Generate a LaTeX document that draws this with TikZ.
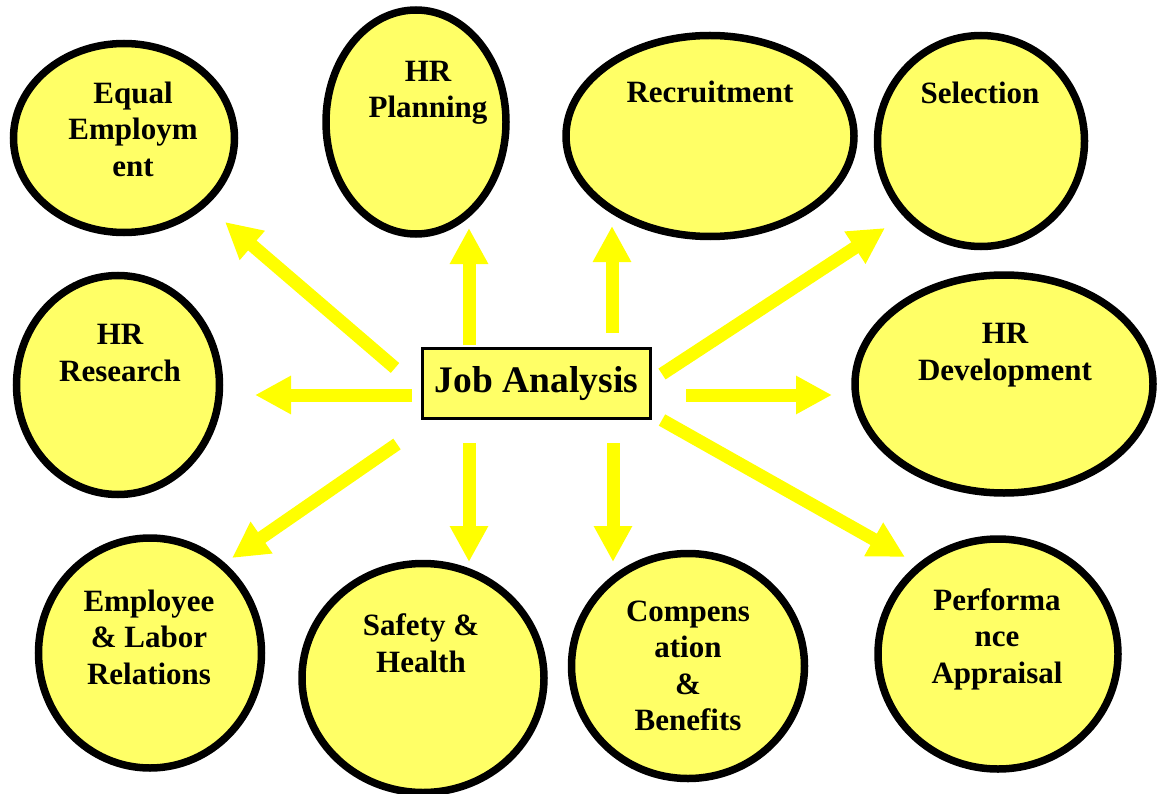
\documentclass[tikz,border=0pt]{standalone}
\usepackage{fontspec}
\setmainfont{Liberation Serif}
\usetikzlibrary{shapes.geometric,arrows.meta,positioning}
\definecolor{bubblefill}{HTML}{FFFF66}
\definecolor{arrowyellow}{HTML}{FFFF00}

\begin{document}
\begin{tikzpicture}[x=1pt, y=-1pt,
    areabubble/.style={draw, ellipse, line width=7.5pt, fill=bubblefill, inner sep=0pt},
    bubbletext/.style={align=center, inner sep=0pt, font=\fontsize{31}{36.5}\selectfont\bfseries},
    jobbox/.style={draw, line width=3pt, fill=bubblefill, minimum width=228pt, minimum height=70pt, font=\fontsize{37.5}{42}\selectfont\bfseries},
    fatarrow/.style={-{Triangle[width=36pt,length=36pt]}, line width=13pt, draw=arrowyellow},
]
    \useasboundingbox (0,0) rectangle (1158,794);

    % HR functions
    \node[areabubble, minimum width=221pt, minimum height=189pt] (equal) at (124,138) {};
    \node[areabubble, minimum width=180pt, minimum height=224pt] (planning) at (416,122) {};
    \node[areabubble, minimum width=288pt, minimum height=201pt] (recruit) at (710,136) {};
    \node[areabubble, minimum width=207pt, minimum height=211pt] (select) at (981,141) {};
    \node[areabubble, minimum width=203pt, minimum height=219pt] (research) at (118,385) {};
    \node[areabubble, minimum width=298pt, minimum height=218pt] (develop) at (1004,384) {};
    \node[areabubble, minimum width=223pt, minimum height=230pt] (labor) at (150,653) {};
    \node[areabubble, minimum width=242pt, minimum height=229pt] (safety) at (423,678) {};
    \node[areabubble, minimum width=233pt, minimum height=225pt] (comp) at (688,666) {};
    \node[areabubble, minimum width=240pt, minimum height=230pt] (perform) at (998,654) {};

    \node[bubbletext] (equaltxt) at (133,129) {Equal\\Employm\\ent};
    \node[bubbletext] (planningtxt) at (428,93) {HR\\Planning};
    \node[bubbletext] (recruittxt) at (710,92) {Recruitment};
    \node[bubbletext] (selecttxt) at (980,93) {Selection};
    \node[bubbletext] (researchtxt) at (120,353) {HR\\Research};
    \node[bubbletext] (developtxt) at (1005,355) {HR\\Development};
    \node[bubbletext] (labortxt) at (149,637) {Employee\\\& Labor\\Relations};
    \node[bubbletext] (safetytxt) at (421,643) {Safety \&\\Health};
    \node[bubbletext] (comptxt) at (688,666) {Compens\\ation\\\&\\Benefits};
    \node[bubbletext] (performtxt) at (997,639) {Performa\\nce\\Appraisal};

    % Job analysis in the middle
    \node[jobbox] (job) at (536.5,383.5) {Job Analysis};

    % arrow ends
    \coordinate (s1) at (395,368);  \coordinate (t1) at (225,222);
    \coordinate (s2) at (469,345);  \coordinate (t2) at (469,228);
    \coordinate (s3) at (612,333);  \coordinate (t3) at (612,226);
    \coordinate (s4) at (662,374);  \coordinate (t4) at (885,228);
    \coordinate (s5) at (412,395);  \coordinate (t5) at (255,395);
    \coordinate (s6) at (686,395);  \coordinate (t6) at (832,395);
    \coordinate (s7) at (397,444);  \coordinate (t7) at (232,558);
    \coordinate (s8) at (469,443);  \coordinate (t8) at (469,562);
    \coordinate (s9) at (613,443);  \coordinate (t9) at (613,562);
    \coordinate (s10) at (662,420); \coordinate (t10) at (905,557);

    \draw[fatarrow] (s1) -- (t1);
    \draw[fatarrow] (s2) -- (t2);
    \draw[fatarrow] (s3) -- (t3);
    \draw[fatarrow] (s4) -- (t4);
    \draw[fatarrow] (s5) -- (t5);
    \draw[fatarrow] (s6) -- (t6);
    \draw[fatarrow] (s7) -- (t7);
    \draw[fatarrow] (s8) -- (t8);
    \draw[fatarrow] (s9) -- (t9);
    \draw[fatarrow] (s10) -- (t10);
\end{tikzpicture}
\end{document}
